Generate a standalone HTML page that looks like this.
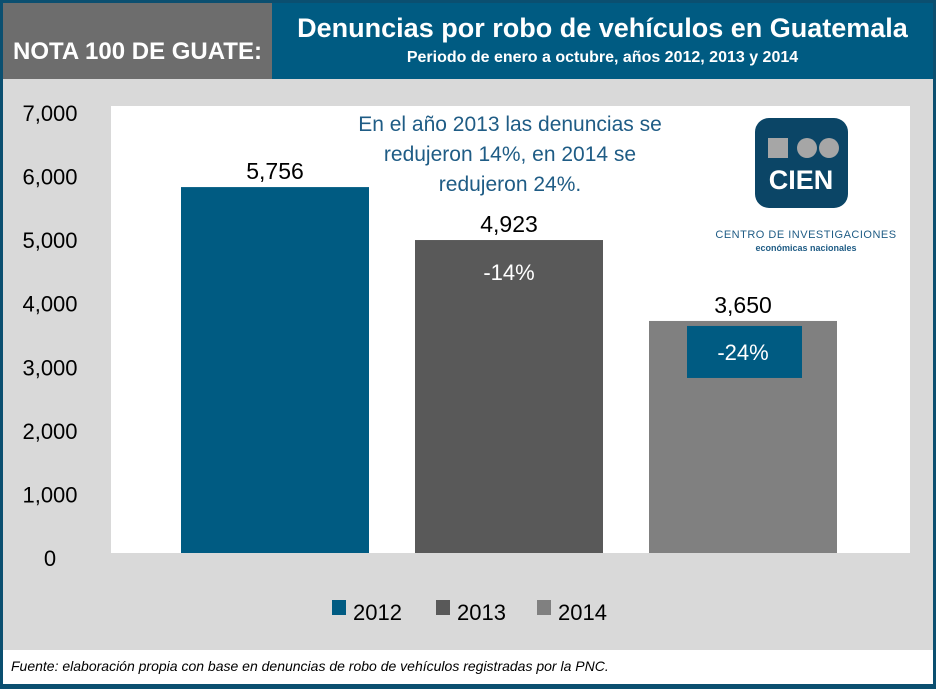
<!DOCTYPE html>
<html><head><meta charset="utf-8"><style>
body{margin:0;width:936px;height:689px;overflow:hidden;font-family:"Liberation Sans",sans-serif;background:#0b4f70}
#wrap{position:absolute;left:0;top:0;width:936px;height:689px}
.abs{position:absolute}
</style></head><body>
<div id="wrap">
<div class="abs" style="left:3px;top:3px;width:269px;height:76px;background:#6d6d6d;color:#fff;font-size:24px;font-weight:bold;display:flex;align-items:flex-end;justify-content:center;box-sizing:border-box;"><span style="position:relative;top:-13px">NOTA 100 DE GUATE:</span></div>
<div class="abs" style="left:272px;top:3px;width:661px;height:76px;background:#005b82;color:#fff;text-align:center">
<div style="font-size:27px;font-weight:bold;margin-top:10px">Denuncias por robo de vehículos en Guatemala</div>
<div style="font-size:16px;font-weight:bold;margin-top:5px">Periodo de enero a octubre, años 2012, 2013 y 2014</div>
</div>
<div class="abs" style="left:3px;top:79px;width:930px;height:571px;background:#d9d9d9"></div>
<div class="abs" style="left:3px;top:650px;width:930px;height:34px;background:#fff;font-size:14px;font-style:italic;color:#000;line-height:32px;padding-left:8px;box-sizing:border-box">Fuente: elaboración propia con base en denuncias de robo de vehículos registradas por la PNC.</div>
<svg class="abs" style="left:0;top:0" width="936" height="689" id="chart"></svg>
</div>
<script>
const categories=["2012","2013","2014"];
const values=[5756,4923,3650];
const valueLabels=["5,756","4,923","3,650"];
const ticks=[0,1000,2000,3000,4000,5000,6000,7000];
const tickLabels=["0","1,000","2,000","3,000","4,000","5,000","6,000","7,000"];
const changeLabels=["","-14%","-24%"];
const colors=["#005b82","#595959","#808080"];
const NS="http://www.w3.org/2000/svg";
const svg=document.getElementById('chart');
const y0=553,yTop=108,vmax=7000;
const y=v=>y0-(v/vmax)*(y0-yTop);
const x=i=>181+i*234;
const bw=188;
function mk(tag,attrs,txt){const e=document.createElementNS(NS,tag);for(const k in attrs)e.setAttribute(k,attrs[k]);if(txt!==undefined)e.textContent=txt;svg.appendChild(e);return e;}
let e=mk('rect',{x:111,y:106,width:799,height:447,fill:'#fff'});


ticks.forEach((t,i)=>{const el=mk('text',{x:50,y:y(t)+13,'text-anchor':'middle','font-size':22,fill:'#000'},tickLabels[i]);

});
values.forEach((v,i)=>{
const r=mk('rect',{x:x(i),y:y(v),width:bw,height:y0-y(v),fill:colors[i]});


const t=mk('text',{x:x(i)+bw/2,y:y(v)-8,'text-anchor':'middle','font-size':23,fill:'#000'},valueLabels[i]);


});
let c1=mk('text',{x:x(1)+bw/2,y:y(values[1])+40,'text-anchor':'middle','font-size':22,fill:'#fff'},changeLabels[1]);


let bx=mk('rect',{x:x(2)+38,y:y(values[2])+5,width:115,height:52,fill:'#005b82'});


let c2=mk('text',{x:x(2)+bw/2,y:y(values[2])+39,'text-anchor':'middle','font-size':22,fill:'#fff'},changeLabels[2]);


["En el año 2013 las denuncias se","redujeron 14%, en 2014 se","redujeron 24%."].forEach((s,i)=>{
const a=mk('text',{x:510,y:131+i*30,'text-anchor':'middle','font-size':21,fill:'#1f5c85'},s);

});
const lx=[332,436,537];
categories.forEach((c,i)=>{
const s=mk('rect',{x:lx[i],y:600,width:14,height:15,fill:colors[i]});


const t=mk('text',{x:lx[i]+21,y:620,'font-size':22,fill:'#000'},c);

});
let g=mk('rect',{x:755,y:118,width:93,height:90,rx:14,fill:'#0b4566'});


mk('rect',{x:768,y:138,width:20,height:20,fill:'#a6a6a6'});
mk('circle',{cx:807,cy:148,r:10,fill:'#a6a6a6'});
mk('circle',{cx:829,cy:148,r:10,fill:'#a6a6a6'});
let lt=mk('text',{x:801,y:189,'text-anchor':'middle','font-size':27,'font-weight':'bold',fill:'#fff'},"CIEN");


let l1=mk('text',{x:806,y:238,'text-anchor':'middle','font-size':11,fill:'#1f5c85','letter-spacing':'0.5'},"CENTRO DE INVESTIGACIONES");


let l2=mk('text',{x:806,y:251,'text-anchor':'middle','font-size':9,'font-weight':'bold',fill:'#1f5c85'},"económicas nacionales");


</script>
</body></html>
